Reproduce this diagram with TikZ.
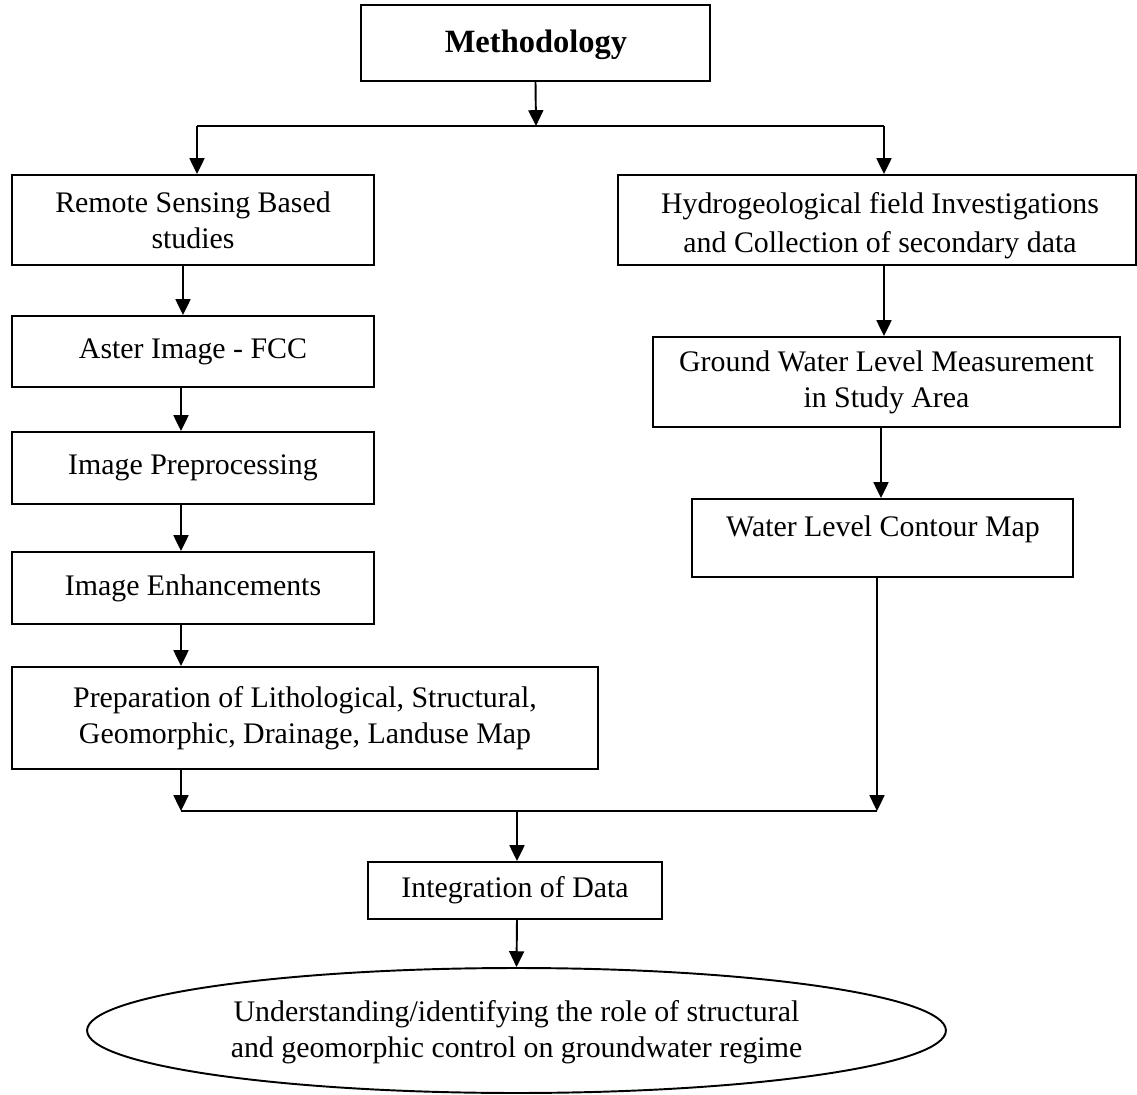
\documentclass[tikz,border=0pt]{standalone}
\usepackage{fontspec}
\setmainfont{Liberation Serif}
\usetikzlibrary{arrows.meta,shapes.geometric}
\begin{document}
\begin{tikzpicture}[x=0.02cm,y=-0.02cm,
  box/.style={draw,line width=1.1pt,rectangle,inner sep=0pt,align=center,font=\fontsize{17}{20.5}\selectfont},
  ellbox/.style={draw,line width=1.1pt,ellipse,inner sep=0pt,align=center,font=\fontsize{17}{20.5}\selectfont},
  txt/.style={inner sep=0pt,align=center,font=\fontsize{17}{20.5}\selectfont},
  arr/.style={line width=1.1pt,-{Triangle[length=9pt,width=8.5pt]}},
  ln/.style={line width=1.1pt}]
\useasboundingbox (0,0) rectangle (1137,1095);
% nodes
\node[box,minimum width=6.98cm,minimum height=1.52cm] (meth) at (535.5,43) {};
\node[txt,font=\fontsize{18.5}{22}\selectfont\bfseries] (metht) at (536,45) {Methodology};
\node[box,minimum width=7.24cm,minimum height=1.8cm] (rs) at (193,220) {Remote Sensing Based\\studies};
\node[box,minimum width=10.36cm,minimum height=1.8cm] (hydro) at (877,220) {};
\node[txt,font=\fontsize{17}{22.2}\selectfont] (hydrot) at (880,226) {Hydrogeological field Investigations\\and Collection of secondary data};
\node[box,minimum width=7.24cm,minimum height=1.42cm] (aster) at (193,351.5) {Aster Image - FCC};
\node[box,minimum width=7.24cm,minimum height=1.44cm] (pre) at (193,468) {Image Preprocessing};
\node[box,minimum width=7.24cm,minimum height=1.44cm] (enh) at (193,588) {Image Enhancements};
\node[box,minimum width=11.72cm,minimum height=2.04cm] (prep) at (305,718) {Preparation of Lithological, Structural,\\Geomorphic, Drainage, Landuse Map};
\node[box,minimum width=9.34cm,minimum height=1.8cm] (gw) at (886.5,382) {Ground Water Level Measurement\\in Study Area};
\node[box,minimum width=7.62cm,minimum height=1.56cm] (wl) at (882.5,538) {};
\node[txt] (wlt) at (883,529) {Water Level Contour Map};
\node[box,minimum width=5.88cm,minimum height=1.14cm] (integ) at (515,890.5) {Integration of Data};
\node[ellbox,minimum width=17.18cm,minimum height=2.5cm] (ell) at (516.5,1030.5) {};
\node[txt] (ellt) at (516.5,1032) {Understanding/identifying the role of structural\\and geomorphic control on groundwater regime};
% coordinates
\coordinate (top) at (536,126);
\coordinate (tl) at (197,126);
\coordinate (tr) at (884,126);
\coordinate (cL) at (181,0);
\coordinate (cL2) at (183,0);
\coordinate (cR) at (881,0);
\coordinate (bl) at (181,811);
\coordinate (br) at (877,811);
\coordinate (bm) at (517,811);
% connectors
\draw[arr] (meth.south) -- (top);
\draw[ln] (tl) -- (tr);
\draw[arr] (tl) -- (tl |- rs.north);
\draw[arr] (tr) -- (tr |- hydro.north);
\draw[arr] (rs.south -| cL2) -- (aster.north -| cL2);
\draw[arr] (aster.south -| cL) -- (pre.north -| cL);
\draw[arr] (pre.south -| cL) -- (enh.north -| cL);
\draw[arr] (enh.south -| cL) -- (prep.north -| cL);
\draw[arr] (prep.south -| bl) -- (bl);
\draw[arr] (hydro.south -| tr) -- (gw.north -| tr);
\draw[arr] (gw.south -| cR) -- (wl.north -| cR);
\draw[arr] (wl.south -| br) -- (br);
\draw[ln] (bl) -- (br);
\draw[arr] (bm) -- (integ.north -| bm);
\draw[arr] (integ.south -| bm) -- (ell.north);
\end{tikzpicture}
\end{document}
